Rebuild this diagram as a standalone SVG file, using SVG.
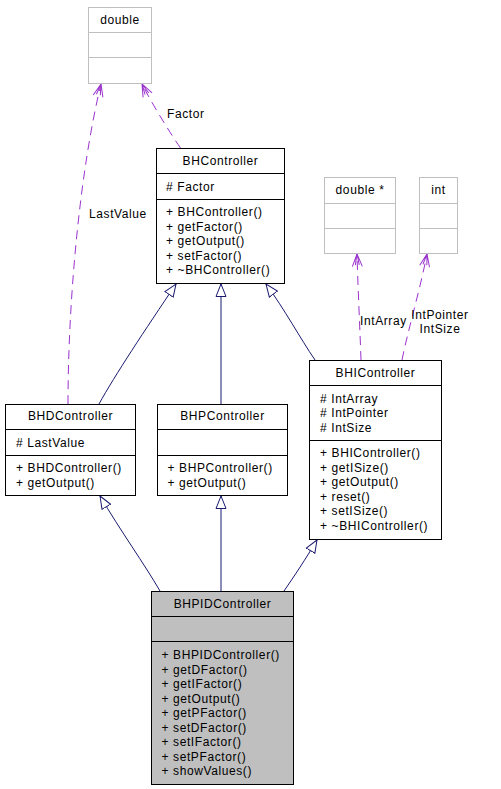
<svg xmlns="http://www.w3.org/2000/svg" width="501" height="789" viewBox="0 0 501 789">
<style>
text{font-family:"Liberation Sans",Arial,sans-serif;font-size:12px;letter-spacing:0.6px;fill:#000}
.t{text-anchor:middle}
.box{fill:#fff;stroke:#000;stroke-width:1}
.gbox{fill:#fff;stroke:#bfbfbf;stroke-width:1}
.pbox{fill:#bfbfbf;stroke:#000;stroke-width:1}
.inh{fill:none;stroke:#191970;stroke-width:1}
.use{fill:none;stroke:#9a32cd;stroke-width:1;stroke-dasharray:9,6}
</style>
<defs>
<marker id="tri" markerUnits="userSpaceOnUse" markerWidth="16" markerHeight="14" refX="13" refY="6" orient="auto" viewBox="0 0 16 12">
<path d="M0.5,1 L13,6 L0.5,11 Z" fill="#fff" stroke="#191970" stroke-width="1"/>
</marker>
<marker id="vee" markerUnits="userSpaceOnUse" markerWidth="16" markerHeight="14" refX="13" refY="6" orient="auto" viewBox="0 0 16 12">
<path d="M0.5,1 L13,6 L0.5,11 M2,4 L13,6 L2,8" fill="none" stroke="#9a32cd" stroke-width="1"/>
</marker>
</defs>
<rect width="501" height="789" fill="#fff"/>
<g id="connectors">
<path class="inh" marker-end="url(#tri)" d="M99,404 C115,375 145,330 176,284"/>
<path class="inh" marker-end="url(#tri)" d="M221,404 L221,284"/>
<path class="inh" marker-end="url(#tri)" d="M315,360 C300,338 285,310 266,284"/>
<path class="inh" marker-end="url(#tri)" d="M160,591 C145,565 120,530 100,496"/>
<path class="inh" marker-end="url(#tri)" d="M221,591 L221,496"/>
<path class="inh" marker-end="url(#tri)" d="M284,591 C295,575 305,560 317,540"/>
<path class="use" marker-end="url(#vee)" d="M180.5,148 C172,136 152,104 142,84"/>
<path class="use" marker-end="url(#vee)" d="M68,404 C68,300 80,170 101,84"/>
<path class="use" marker-end="url(#vee)" d="M361,360 C360,330 358,290 357,254"/>
<path class="use" marker-end="url(#vee)" d="M402,360 C408,330 420,290 427,254"/>
<text x="167" y="118">Factor</text>
<text x="89" y="218">LastValue</text>
<text x="360" y="325">IntArray</text>
<text class="t" x="440" y="319">IntPointer</text>
<text class="t" x="440" y="333">IntSize</text>
</g>
<g id="double">
<rect class="gbox" x="88.5" y="7.5" width="63" height="76"/>
<line x1="88.5" y1="32.5" x2="151.5" y2="32.5" stroke="#bfbfbf"/>
<line x1="88.5" y1="57.5" x2="151.5" y2="57.5" stroke="#bfbfbf"/>
<text class="t" x="120" y="24">double</text>
</g>
<g id="doubleptr">
<rect class="gbox" x="324.5" y="177.5" width="71" height="76"/>
<line x1="324.5" y1="203.5" x2="395.5" y2="203.5" stroke="#bfbfbf"/>
<line x1="324.5" y1="228.5" x2="395.5" y2="228.5" stroke="#bfbfbf"/>
<text class="t" x="360" y="194">double *</text>
</g>
<g id="int">
<rect class="gbox" x="419.5" y="177.5" width="38" height="76"/>
<line x1="419.5" y1="203.5" x2="457.5" y2="203.5" stroke="#bfbfbf"/>
<line x1="419.5" y1="228.5" x2="457.5" y2="228.5" stroke="#bfbfbf"/>
<text class="t" x="438.5" y="194">int</text>
</g>
<g id="BHController">
<rect class="box" x="156.5" y="148.5" width="128" height="135"/>
<line x1="156.5" y1="173.5" x2="284.5" y2="173.5" stroke="#000"/>
<line x1="156.5" y1="199.5" x2="284.5" y2="199.5" stroke="#000"/>
<text class="t" x="220.5" y="165">BHController</text>
<text x="166" y="191"># Factor</text>
<text x="166" y="216">+ BHController()</text>
<text x="166" y="230.5">+ getFactor()</text>
<text x="166" y="245">+ getOutput()</text>
<text x="166" y="259.5">+ setFactor()</text>
<text x="166" y="274">+ ~BHController()</text>
</g>
<g id="BHDController">
<rect class="box" x="5.5" y="404.5" width="130" height="91"/>
<line x1="5.5" y1="429.5" x2="135.5" y2="429.5" stroke="#000"/>
<line x1="5.5" y1="455.5" x2="135.5" y2="455.5" stroke="#000"/>
<text class="t" x="70.5" y="420">BHDController</text>
<text x="16" y="446.5"># LastValue</text>
<text x="16" y="472">+ BHDController()</text>
<text x="16" y="486.5">+ getOutput()</text>
</g>
<g id="BHPController">
<rect class="box" x="157.5" y="404.5" width="130" height="91"/>
<line x1="157.5" y1="429.5" x2="287.5" y2="429.5" stroke="#000"/>
<line x1="157.5" y1="455.5" x2="287.5" y2="455.5" stroke="#000"/>
<text class="t" x="222.5" y="420">BHPController</text>
<text x="167.5" y="472">+ BHPController()</text>
<text x="167.5" y="486.5">+ getOutput()</text>
</g>
<g id="BHIController">
<rect class="box" x="309.5" y="360.5" width="132" height="179"/>
<line x1="309.5" y1="385.5" x2="441.5" y2="385.5" stroke="#000"/>
<line x1="309.5" y1="440.5" x2="441.5" y2="440.5" stroke="#000"/>
<text class="t" x="375.5" y="377">BHIController</text>
<text x="320" y="402.5"># IntArray</text>
<text x="320" y="417"># IntPointer</text>
<text x="320" y="431.5"># IntSize</text>
<text x="320" y="457">+ BHIController()</text>
<text x="320" y="471.5">+ getISize()</text>
<text x="320" y="486">+ getOutput()</text>
<text x="320" y="500.5">+ reset()</text>
<text x="320" y="515">+ setISize()</text>
<text x="320" y="529.5">+ ~BHIController()</text>
</g>
<g id="BHPIDController">
<rect class="pbox" x="151.5" y="591.5" width="142" height="193"/>
<line x1="151.5" y1="616.5" x2="293.5" y2="616.5" stroke="#000"/>
<line x1="151.5" y1="641.5" x2="293.5" y2="641.5" stroke="#000"/>
<text class="t" x="222.5" y="608">BHPIDController</text>
<text x="161.5" y="659">+ BHPIDController()</text>
<text x="161.5" y="673.5">+ getDFactor()</text>
<text x="161.5" y="688">+ getIFactor()</text>
<text x="161.5" y="702.5">+ getOutput()</text>
<text x="161.5" y="717">+ getPFactor()</text>
<text x="161.5" y="731.5">+ setDFactor()</text>
<text x="161.5" y="746">+ setIFactor()</text>
<text x="161.5" y="760.5">+ setPFactor()</text>
<text x="161.5" y="775">+ showValues()</text>
</g>
</svg>
